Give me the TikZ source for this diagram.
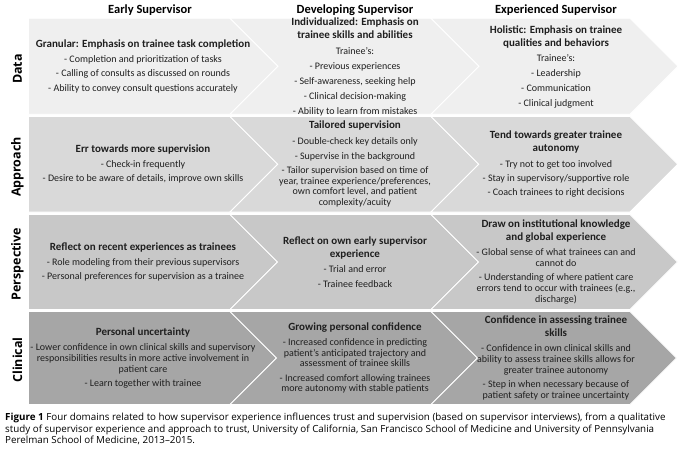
\documentclass[tikz,border=0pt]{standalone}
\usepackage{fontspec}
\setmainfont{Carlito}
\newfontfamily\labelfont{Open Sans}
\definecolor{datagray}{HTML}{EFEFEF}
\definecolor{approachgray}{HTML}{D9D9D9}
\definecolor{perspectivegray}{HTML}{C8C8C8}
\definecolor{clinicalgray}{HTML}{A6A6A6}
\newcommand{\cellhead}[1]{{\bfseries\fontsize{11}{12.5}\selectfont #1}}
\tikzset{
  band/.style={draw=white, line width=0.8pt},
  datarow/.style={band, fill=datagray},
  approachrow/.style={band, fill=approachgray},
  perspectiverow/.style={band, fill=perspectivegray},
  clinicalrow/.style={band, fill=clinicalgray},
  cell/.style={align=center, inner sep=0pt, text=black!88, font=\fontsize{10}{10.8}\selectfont},
  rowlabel/.style={rotate=90, inner sep=0pt, font=\labelfont\bfseries\fontsize{12.5}{14}\selectfont},
  stage/.style={inner sep=0pt, font=\bfseries\fontsize{12.5}{14}\selectfont},
  caption/.style={align=left, inner sep=0pt, font=\labelfont\fontsize{9.8}{11.5}\selectfont}
}
\begin{document}
\begin{tikzpicture}[x=1pt,y=-1pt]
  \useasboundingbox (0,0) rectangle (683,453);
  \path[datarow] (28.5,18.3) -- (230,18.3) -- (278,66.3) -- (230,114.3) -- (28.5,114.3) -- cycle;
  \path[datarow] (230,18.3) -- (431,18.3) -- (479,66.3) -- (431,114.3) -- (230,114.3) -- (278,66.3) -- cycle;
  \path[datarow] (431,18.3) -- (630,18.3) -- (678,66.3) -- (630,114.3) -- (431,114.3) -- (479,66.3) -- cycle;
  \path[approachrow] (28.5,116.5) -- (230,116.5) -- (277.75,164.25) -- (230,212) -- (28.5,212) -- cycle;
  \path[approachrow] (230,116.5) -- (431,116.5) -- (478.75,164.25) -- (431,212) -- (230,212) -- (277.75,164.25) -- cycle;
  \path[approachrow] (431,116.5) -- (630,116.5) -- (677.75,164.25) -- (630,212) -- (431,212) -- (478.75,164.25) -- cycle;
  \path[perspectiverow] (28.5,214.5) -- (230,214.5) -- (277.5,262) -- (230,309.5) -- (28.5,309.5) -- cycle;
  \path[perspectiverow] (230,214.5) -- (431,214.5) -- (478.5,262) -- (431,309.5) -- (230,309.5) -- (277.5,262) -- cycle;
  \path[perspectiverow] (431,214.5) -- (630,214.5) -- (677.5,262) -- (630,309.5) -- (431,309.5) -- (478.5,262) -- cycle;
  \path[clinicalrow] (28.5,311.5) -- (230,311.5) -- (276.5,358) -- (230,404.5) -- (28.5,404.5) -- cycle;
  \path[clinicalrow] (230,311.5) -- (431,311.5) -- (477.5,358) -- (431,404.5) -- (230,404.5) -- (276.5,358) -- cycle;
  \path[clinicalrow] (431,311.5) -- (630,311.5) -- (676.5,358) -- (630,404.5) -- (431,404.5) -- (477.5,358) -- cycle;

  \node[stage] (early) at (150,10) {Early Supervisor};
  \node[stage] (developing) at (355,10) {Developing Supervisor};
  \node[stage] (experienced) at (556,10) {Experienced Supervisor};

  \node[rowlabel] (lbldata) at (17.5,69) {Data};
  \node[rowlabel] (lblapproach) at (17.5,167) {Approach};
  \node[rowlabel] (lblperspective) at (17.5,264) {Perspective};
  \node[rowlabel] (lblclinical) at (17.5,360) {Clinical};

  \node[cell] (data1) at (143,66.3) {\cellhead{Granular: Emphasis on trainee task completion}\\[4.2pt]
    - Completion and prioritization of tasks\\[3.5pt]
    - Calling of consults as discussed on rounds\\[3.5pt]
    - Ability to convey consult questions accurately};
  \node[cell] (data2) at (355,67) {\cellhead{Individualized: Emphasis on}\\[1.9pt]
    \cellhead{trainee skills and abilities}\\[5.4pt]
    Trainee’s:\\[4.3pt]
    - Previous experiences\\[4.2pt]
    - Self-awareness, seeking help\\[4.2pt]
    - Clinical decision-making\\[4.2pt]
    - Ability to learn from mistakes};
  \node[cell] (data3) at (556,67) {\cellhead{Holistic: Emphasis on trainee}\\[1.9pt]
    \cellhead{qualities and behaviors}\\[4.8pt]
    Trainee’s:\\[4.3pt]
    - Leadership\\[4pt]
    - Communication\\[4pt]
    - Clinical judgment};

  \node[cell] (approach1) at (143,164.25) {\cellhead{Err towards more supervision}\\[4.2pt]
    - Check-in frequently\\[3.5pt]
    - Desire to be aware of details, improve own skills};
  \node[cell] (approach2) at (355,164.25) {\cellhead{Tailored supervision}\\[4.8pt]
    - Double-check key details only\\[4.2pt]
    - Supervise in the background\\[3pt]
    - Tailor supervision based on time of\\
    year, trainee experience/preferences,\\
    own comfort level, and patient\\
    complexity/acuity};
  \node[cell] (approach3) at (556,164.25) {\cellhead{Tend towards greater trainee}\\[1.7pt]
    \cellhead{autonomy}\\[4.8pt]
    - Try not to get too involved\\[3.5pt]
    - Stay in supervisory/supportive role\\[3.5pt]
    - Coach trainees to right decisions};

  \node[cell] (perspective1) at (143,262) {\cellhead{Reflect on recent experiences as trainees}\\[4.2pt]
    - Role modeling from their previous supervisors\\[3.5pt]
    - Personal preferences for supervision as a trainee};
  \node[cell] (perspective2) at (355,262) {\cellhead{Reflect on own early supervisor}\\[1.7pt]
    \cellhead{experience}\\[4.8pt]
    - Trial and error\\[3.5pt]
    - Trainee feedback};
  \node[cell] (perspective3) at (556,262) {\cellhead{Draw on institutional knowledge}\\[1.7pt]
    \cellhead{and global experience}\\[4.2pt]
    - Global sense of what trainees can and\\
    cannot do\\[3.5pt]
    - Understanding of where patient care\\
    errors tend to occur with trainees (e.g.,\\
    discharge)};

  \node[cell] (clinical1) at (143,358) {\cellhead{Personal uncertainty}\\[4.2pt]
    - Lower confidence in own clinical skills and supervisory\\
    responsibilities results in more active involvement in\\
    patient care\\[3.5pt]
    - Learn together with trainee};
  \node[cell] (clinical2) at (355,358) {\cellhead{Growing personal confidence}\\[4.2pt]
    - Increased confidence in predicting\\
    patient’s anticipated trajectory and\\
    assessment of trainee skills\\[3.5pt]
    - Increased comfort allowing trainees\\
    more autonomy with stable patients};
  \node[cell] (clinical3) at (556,358) {\cellhead{Confidence in assessing trainee}\\[1.7pt]
    \cellhead{skills}\\[4.2pt]
    - Confidence in own clinical skills and\\
    ability to assess trainee skills allows for\\
    greater trainee autonomy\\[3.5pt]
    - Step in when necessary because of\\
    patient safety or trainee uncertainty};

  \node[caption, anchor=north west] (figcaption) at (5,413) {\textbf{Figure 1} Four domains related to how supervisor experience influences trust and supervision (based on supervisor interviews), from a qualitative\\
    study of supervisor experience and approach to trust, University of California, San Francisco School of Medicine and University of Pennsylvania\\
    Perelman School of Medicine, 2013–2015.};
\end{tikzpicture}
\end{document}
